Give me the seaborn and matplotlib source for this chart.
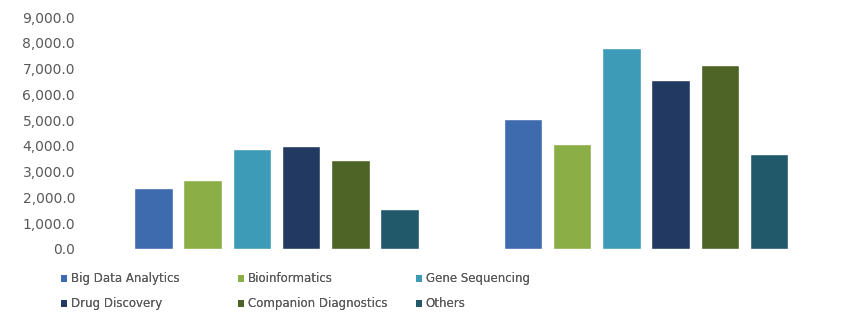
import matplotlib
matplotlib.use("Agg")
import matplotlib.pyplot as plt
import seaborn as sns
import pandas as pd
from matplotlib.ticker import FuncFormatter
from matplotlib.patches import Patch

periods = ["Period 1", "Period 2"]
segments = ["Big Data Analytics", "Bioinformatics", "Gene Sequencing",
            "Drug Discovery", "Companion Diagnostics", "Others"]
big_data = [2380, 5040]
bioinformatics = [2680, 4070]
gene_sequencing = [3865, 7790]
drug_discovery = [4005, 6560]
companion_dx = [3460, 7130]
others = [1550, 3680]
colors = ["#3E6AAE", "#8BAE47", "#3E9BB8", "#223A61", "#4E6326", "#21596A"]

values = [big_data, bioinformatics, gene_sequencing, drug_discovery, companion_dx, others]
rows = []
for seg, vals in zip(segments, values):
    for p, v in zip(periods, vals):
        rows.append({"period": p, "segment": seg, "value": v})
df = pd.DataFrame(rows)

sns.set_theme(style="white")
plt.rcParams['font.family'] = ['DejaVu Sans']

fig = plt.figure(figsize=(8.52, 3.24), dpi=100)
ax = fig.add_axes([0.1077, 0.2315, 0.8673, 0.716])
sns.barplot(data=df, x="period", y="value", hue="segment", hue_order=segments,
            order=periods, palette=colors, width=0.8, gap=0.22, ax=ax,
            legend=False, saturation=1)

ax.set_ylim(0, 9000)
ax.set_xlim(-0.5, 1.5)
ax.set_yticks(range(0, 9001, 1000))
ax.yaxis.set_major_formatter(FuncFormatter(lambda v, p: f"{v:,.1f}"))
ax.tick_params(axis="y", labelsize=10, labelcolor="#595959", length=0, pad=12)
ax.set_xticks([])
ax.set_xlabel("")
ax.set_ylabel("")
for s in ax.spines.values():
    s.set_visible(False)

cols = [(0, 3), (1, 4), (2, 5)]
xs = [0.0716, 0.279, 0.488]
for (i, j), x in zip(cols, xs):
    handles = [Patch(facecolor=colors[i], edgecolor="none"),
               Patch(facecolor=colors[j], edgecolor="none")]
    leg = fig.legend(handles, [segments[i], segments[j]], loc="upper left",
                     bbox_to_anchor=(x, 0.159), frameon=False, fontsize=8.5,
                     handlelength=0.55, handleheight=0.55, handletextpad=0.3,
                     labelspacing=1.0, borderaxespad=0, borderpad=0,
                     labelcolor="#595959")
    fig.add_artist(leg)

fig.savefig("out.png", dpi=100)
